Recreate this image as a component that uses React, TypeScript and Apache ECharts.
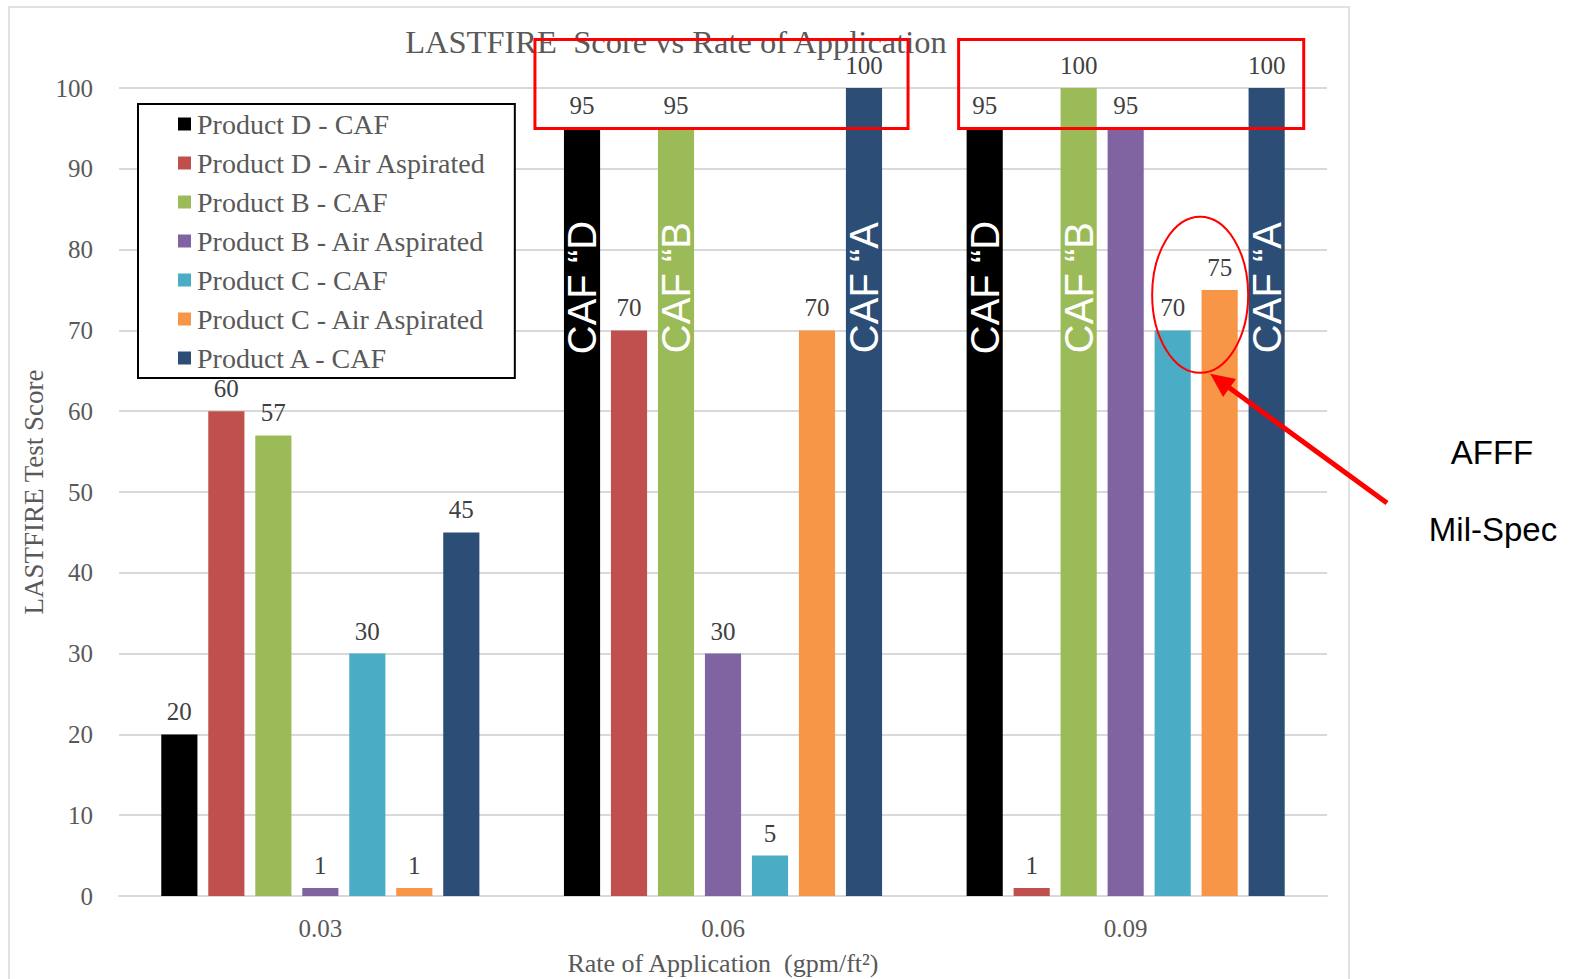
import React, { useEffect, useRef } from "react";
import * as echarts from "echarts";

const categories = ["0.03", "0.06", "0.09"];
const seriesNames = [
  "Product D - CAF",
  "Product D - Air Aspirated",
  "Product B - CAF",
  "Product B - Air Aspirated",
  "Product C - CAF",
  "Product C - Air Aspirated",
  "Product A - CAF",
];
const productDCaf = [20, 95, 95];
const productDAir = [60, 70, 1];
const productBCaf = [57, 95, 100];
const productBAir = [1, 30, 95];
const productCCaf = [30, 5, 70];
const productCAir = [1, 70, 75];
const productACaf = [45, 100, 100];
const seriesValues = [productDCaf, productDAir, productBCaf, productBAir, productCCaf, productCAir, productACaf];
const colors = ["#000000", "#C0504D", "#9BBB59", "#8064A2", "#4BACC6", "#F79646", "#2C4D75"];

const yMin = 0;
const yMax = 100;
const yInterval = 10;

const titleText = "LASTFIRE  Score vs Rate of Application";
const yAxisTitle = "LASTFIRE Test Score";
const xAxisTitle = "Rate of Application  (gpm/ft²)";

// rotated in-bar annotations
const cafSeries = [0, 2, 6];
const cafTexts = ["CAF “D", "CAF “B", "CAF “A"];
const cafCategories = [1, 2];

const SERIF = "'Liberation Serif', 'Times New Roman', serif";
const SANS = "'Liberation Sans', Arial, sans-serif";

export default function App() {
  const ref = useRef<HTMLDivElement>(null);

  useEffect(() => {
    const chart = echarts.init(ref.current!, null, { renderer: "svg" });
    const option: any = {
      animation: false,
      color: colors,
      grid: { left: 119, right: 254, top: 88, bottom: 83, containLabel: false },
      legend: {
        orient: "vertical",
        left: 138,
        top: 104,
        padding: [6, 27, 6, 40],
        itemGap: 11,
        itemWidth: 13,
        itemHeight: 13,
        icon: "rect",
        borderColor: "#000",
        borderWidth: 2,
        backgroundColor: "#fff",
        textStyle: { fontFamily: SERIF, fontSize: 28, color: "#595959", padding: [0, 0, 0, 1] },
        data: seriesNames,
      },
      xAxis: {
        type: "category",
        data: categories,
        axisLine: { lineStyle: { color: "#d9d9d9", width: 2 } },
        axisTick: { show: false },
        axisLabel: { fontFamily: SERIF, fontSize: 25, color: "#595959", margin: 20 },
      },
      yAxis: {
        type: "value",
        min: yMin,
        max: yMax,
        interval: yInterval,
        axisLine: { show: false },
        axisTick: { show: false },
        splitLine: { lineStyle: { color: "#d9d9d9", width: 2 } },
        axisLabel: { fontFamily: SERIF, fontSize: 25, color: "#595959", margin: 26 },
      },
      series: seriesNames.map((name, i) => ({
        name,
        type: "bar",
        data: seriesValues[i],
        barGap: "30%",
        barCategoryGap: "21%",
        itemStyle: { color: colors[i] },
        label: {
          show: true,
          position: "top",
          distance: 10,
          fontFamily: SERIF,
          fontSize: 25,
          color: "#404040",
        },
      })),
    };
    chart.setOption(option);

    const py = (v: number) => chart.convertToPixel({ yAxisIndex: 0 }, v) as number;
    const cx = (c: number) => chart.convertToPixel({ xAxisIndex: 0 }, c) as number;
    const barLayout = (s: number, j: number) => {
      try {
        const l = (chart as any).getModel().getSeriesByIndex(s).getData().getItemLayout(j);
        if (l) return l;
      } catch (e) {}
      const w = 36;
      return { x: cx(j) - 159 + 47 * s, y: py(seriesValues[s][j]), width: w, height: 0 };
    };

    const graphics: any[] = [];
    graphics.push({
      type: "rect",
      silent: true,
      z: 100,
      shape: { x: 9, y: 7, width: 1340, height: 1000 },
      style: { fill: "none", stroke: "#d9d9d9", lineWidth: 1.5 },
    });
    graphics.push({
      type: "text",
      z: 100,
      x: 676,
      y: 42,
      style: { text: titleText, align: "center", verticalAlign: "middle", font: `32.5px ${SERIF}`, fill: "#595959" },
    });
    graphics.push({
      type: "text",
      z: 100,
      x: 34,
      y: (py(yMin) + py(yMax)) / 2,
      rotation: Math.PI / 2,
      style: { text: yAxisTitle, align: "center", verticalAlign: "middle", font: `27px ${SERIF}`, fill: "#595959" },
    });
    graphics.push({
      type: "text",
      z: 100,
      x: cx(1),
      y: 963,
      style: { text: xAxisTitle, align: "center", verticalAlign: "middle", font: `26px ${SERIF}`, fill: "#595959" },
    });

    cafCategories.forEach((c) => {
      cafSeries.forEach((s, k) => {
        const l = barLayout(s, c);
        graphics.push({
          type: "text",
          z: 120,
          x: l.x + l.width / 2,
          y: py(75.3),
          rotation: Math.PI / 2,
          style: { text: cafTexts[k], align: "center", verticalAlign: "middle", font: `40px ${SANS}`, fill: "#ffffff" },
        });
      });
    });

    // red boxes around the top labels of groups 0.06 and 0.09
    const boxTop = py(106);
    const boxBottom = py(95);
    const g1a = barLayout(0, 1);
    const g1b = barLayout(6, 1);
    const g2a = barLayout(0, 2);
    const g2b = barLayout(6, 2);
    const boxes = [
      [g1a.x - 29, g1b.x + g1b.width + 26],
      [g2a.x - 8, g2b.x + g2b.width + 19],
    ];
    boxes.forEach(([x0, x1]) => {
      graphics.push({
        type: "rect",
        z: 130,
        silent: true,
        shape: { x: x0, y: boxTop, width: x1 - x0, height: boxBottom - boxTop },
        style: { fill: "none", stroke: "#FF0000", lineWidth: 3 },
      });
    });

    // ellipse around Product C bars at 0.09
    const e1 = barLayout(4, 2);
    const e2 = barLayout(5, 2);
    const ecx = (e1.x + e2.x + e2.width) / 2 + 4;
    const ecy = py(74.4);
    graphics.push({
      type: "ellipse",
      z: 130,
      silent: true,
      shape: { cx: ecx, cy: ecy, rx: 48, ry: 78 },
      style: { fill: "none", stroke: "#FF0000", lineWidth: 2 },
    });

    // arrow
    const tip = [ecx + 10, ecy + 79];
    const tail = [1387, 503];
    const dx = tip[0] - tail[0];
    const dy = tip[1] - tail[1];
    const len = Math.sqrt(dx * dx + dy * dy);
    const ux = dx / len;
    const uy = dy / len;
    const nx = -uy;
    const ny = ux;
    const headLen = 24;
    const headHalf = 11;
    const base = [tip[0] - headLen * ux, tip[1] - headLen * uy];
    graphics.push({
      type: "line",
      z: 130,
      silent: true,
      shape: { x1: tail[0], y1: tail[1], x2: base[0] + 2 * ux, y2: base[1] + 2 * uy },
      style: { stroke: "#FF0000", lineWidth: 5 },
    });
    graphics.push({
      type: "polygon",
      z: 130,
      silent: true,
      shape: {
        points: [
          tip,
          [base[0] + headHalf * nx, base[1] + headHalf * ny],
          [base[0] - headHalf * nx, base[1] - headHalf * ny],
        ],
      },
      style: { fill: "#FF0000" },
    });

    graphics.push({
      type: "text",
      z: 130,
      x: 1492,
      y: 452,
      style: { text: "AFFF", align: "center", verticalAlign: "middle", font: `33px ${SANS}`, fill: "#000000" },
    });
    graphics.push({
      type: "text",
      z: 130,
      x: 1493,
      y: 529,
      style: { text: "Mil-Spec", align: "center", verticalAlign: "middle", font: `33px ${SANS}`, fill: "#000000" },
    });

    chart.setOption({ graphic: graphics });
    return () => chart.dispose();
  }, []);

  return (
    <div
      ref={ref}
      style={{ position: "fixed", left: 0, top: 0, width: 1581, height: 979, background: "#ffffff" }}
    />
  );
}
